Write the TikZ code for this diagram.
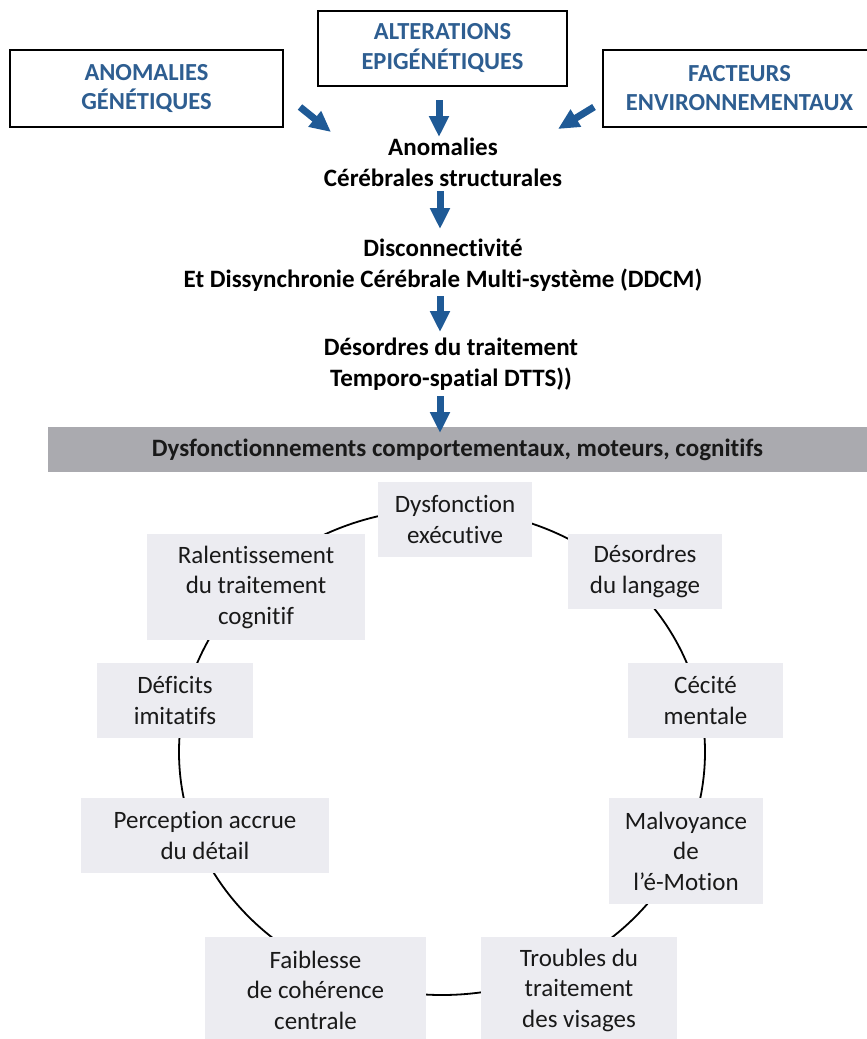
\documentclass[tikz,border=0pt]{standalone}
\usepackage{fontspec}
\setmainfont{Carlito}[Ligatures=NoCommon]
\usetikzlibrary{arrows.meta}
\definecolor{bluetxt}{RGB}{46,94,145}
\definecolor{arrowblue}{RGB}{31,90,150}
\definecolor{barfill}{RGB}{170,170,175}
\definecolor{boxfill}{RGB}{236,236,241}
\definecolor{txt}{RGB}{25,25,25}
\begin{document}
\begin{tikzpicture}[x=1pt,y=-1pt,
  topbox/.style={draw=black, line width=1.6pt, fill=white, minimum width=273pt, minimum height=77pt,
    align=center, text=bluetxt, font=\fontsize{24.5}{29}\selectfont\bfseries, inner sep=0pt},
  midtext/.style={align=center, text=black, font=\fontsize{25}{31}\selectfont\bfseries, inner sep=0pt},
  lightbox/.style={fill=boxfill, minimum width=154pt, minimum height=75pt, align=center, text=txt,
    font=\fontsize{25}{30.5}\selectfont, inner sep=0pt},
  barrow/.style={line width=7pt, draw=arrowblue, -{Triangle[width=19pt,length=21pt]}}
]
\useasboundingbox (0,0) rectangle (867,1039);
% top boxes
\node[topbox] (gen) at (146.5,88.5) {ANOMALIES\\GÉNÉTIQUES};
\node[topbox, minimum width=249pt, minimum height=75pt, font=\fontsize{24.5}{30}\selectfont\bfseries] (epi) at (442.5,48.5) {ALTERATIONS\\EPIGÉNÉTIQUES};
\node[topbox] (env) at (739.5,88.5) {FACTEURS\\ENVIRONNEMENTAUX};
% central chain
\node[midtext] (anom) at (443,162) {Anomalies\\Cérébrales structurales};
\node[midtext] (ddcm) at (443,265) {Disconnectivité\\Et Dissynchronie Cérébrale Multi-système (DDCM)};
\node[midtext] (dtts) at (451,364) {Désordres du traitement\\Temporo-spatial DTTS))};
\node[fill=barfill, minimum width=819pt, minimum height=45pt, inner sep=0pt, text=txt,
  font=\fontsize{25}{30}\selectfont\bfseries] (bar) at (457.5,449.5) {Dysfonctionnements comportementaux, moteurs, cognitifs};
% arrow coordinates
\coordinate (a1s) at (300,107); \coordinate (a1e) at (331,132);
\coordinate (a2s) at (439,100); \coordinate (a2e) at (439,137);
\coordinate (a3s) at (594,107); \coordinate (a3e) at (558,129);
\coordinate (a4s) at (440,191); \coordinate (a4e) at (440,229);
\coordinate (a5s) at (440,296); \coordinate (a5e) at (440,332);
\coordinate (a6s) at (440,396); \coordinate (a6e) at (440,433);
\draw[barrow] (a1s) -- (a1e);
\draw[barrow] (a2s) -- (a2e);
\draw[barrow] (a3s) -- (a3e);
\draw[barrow] (a4s) -- (a4e);
\draw[barrow] (a5s) -- (a5e);
\draw[barrow] (a6s) -- (a6e);
% cycle
\coordinate (cc) at (442,752);
\draw[line width=1.8pt, black] (cc) ellipse [x radius=263, y radius=243];
\node[lightbox] (dys) at (455,519.5) {Dysfonction\\exécutive};
\node[lightbox, minimum width=218pt, minimum height=106pt] (ral) at (256,587) {Ralentissement\\du traitement\\cognitif};
\node[lightbox] (des) at (645,571.5) {Désordres\\du langage};
\node[lightbox, minimum width=156pt] (def) at (175,700.5) {Déficits\\imitatifs};
\node[lightbox, minimum width=155pt] (cec) at (705.5,700.5) {Cécité\\mentale};
\node[lightbox, minimum width=248pt] (per) at (205,835.5) {Perception accrue\\du détail};
\node[lightbox, minimum height=106pt] (mal) at (686,851) {Malvoyance\\de\\l’é-Motion};
\node[lightbox, minimum width=221pt, minimum height=106pt] (fai) at (315.5,990) {Faiblesse\\de cohérence\\centrale};
\node[lightbox, minimum width=196pt, minimum height=106pt] (tro) at (579,990) {Troubles du\\traitement\\des visages};
\end{tikzpicture}
\end{document}
